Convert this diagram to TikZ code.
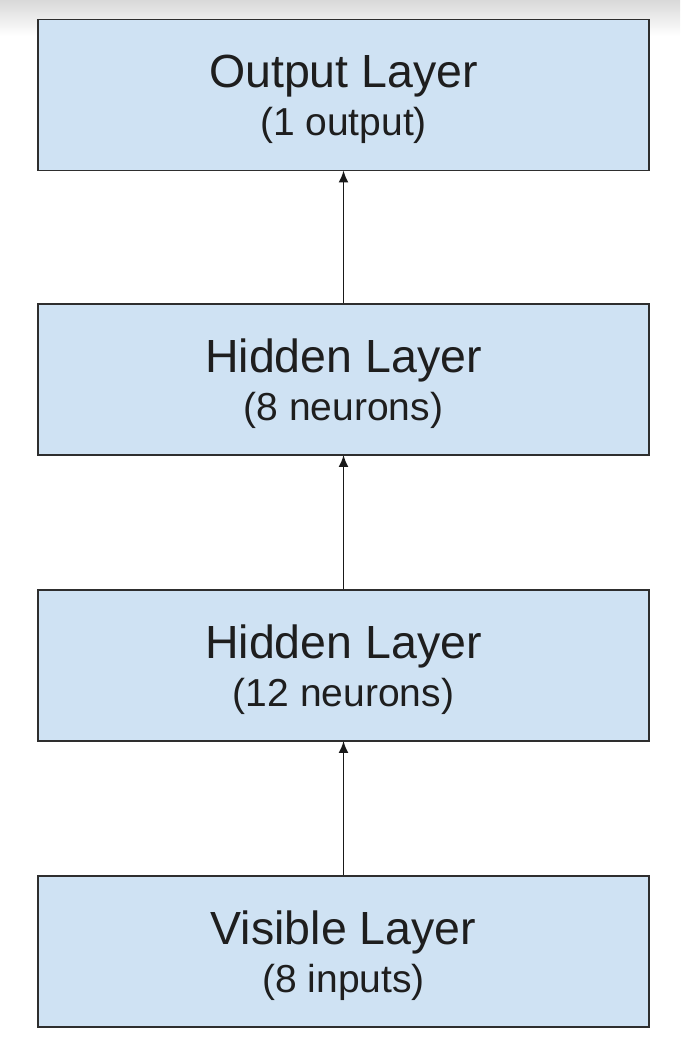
\documentclass[tikz,border=0pt]{standalone}
\usepackage{fontspec}
\setmainfont{Liberation Sans}
\usetikzlibrary{arrows.meta,calc}
\definecolor{boxfill}{HTML}{CFE2F3}
\definecolor{boxline}{HTML}{2E2E2E}
\definecolor{txt}{HTML}{1E1E1E}
\tikzset{
  layer/.style={draw=boxline, line width=1.9pt, fill=boxfill, minimum width=611pt, minimum height=151pt, inner sep=0pt},
  titletext/.style={anchor=base, text=txt, inner sep=0pt, font=\fontsize{46.5}{50}\selectfont},
  subtext/.style={anchor=base, text=txt, inner sep=0pt, font=\fontsize{39}{44}\selectfont},
  uparrow/.style={line width=1.9pt, draw=black!90, -{Latex[length=12pt,width=10pt]}, shorten >=-1pt}
}
\begin{document}
\begin{tikzpicture}[x=1pt, y=-1pt]
\useasboundingbox (0,0) rectangle (680,1056);
\fill[white] (0,0) rectangle (680,1056);
\shade[top color=black!15, bottom color=white] (0,0) rectangle (680,36);
% boxes
\node[layer] (out) at (343.5,95) {};
\node[layer] (h8) at (343.5,379.5) {};
\node[layer] (h12) at (343.5,665.5) {};
\node[layer] (vis) at (343.5,951.5) {};
% labels
\node[titletext] (outT) at ($(out.center)+(0,-7.5)$) {Output Layer};
\node[subtext] (outS) at ($(out.center)+(0,40.5)$) {(1 output)};
\node[titletext] (h8T) at ($(h8.center)+(0,-7.5)$) {Hidden Layer};
\node[subtext] (h8S) at ($(h8.center)+(0,40.5)$) {(8 neurons)};
\node[titletext] (h12T) at ($(h12.center)+(0,-7.5)$) {Hidden Layer};
\node[subtext] (h12S) at ($(h12.center)+(0,40.5)$) {(12 neurons)};
\node[titletext] (visT) at ($(vis.center)+(0,-7.5)$) {Visible Layer};
\node[subtext] (visS) at ($(vis.center)+(0,40.5)$) {(8 inputs)};
% arrows
\draw[uparrow] (vis.north) -- (h12.south);
\draw[uparrow] (h12.north) -- (h8.south);
\draw[uparrow] (h8.north) -- (out.south);
\end{tikzpicture}
\end{document}
